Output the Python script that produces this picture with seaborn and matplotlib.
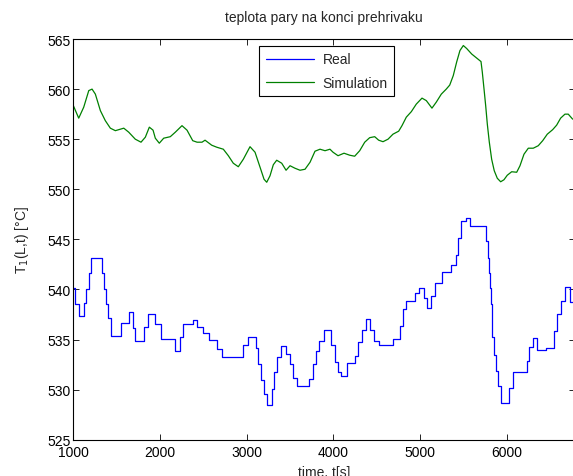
import matplotlib
matplotlib.use("Agg")
import matplotlib.pyplot as plt
import seaborn as sns
import numpy as np

# Measured steam temperature (step signal): step start times [s] and levels [°C]
real_t = [1000, 1023, 1069, 1123, 1147, 1177, 1204, 1331, 1354, 1381, 1400, 1431,
          1547, 1639, 1689, 1716, 1812, 1862, 1946, 2016, 2177, 2235, 2269, 2378,
          2428, 2500, 2570, 2655, 2716, 2962, 3016, 3108, 3135, 3162, 3204, 3239,
          3289, 3316, 3347, 3397, 3455, 3501, 3532, 3581, 3720, 3762, 3801, 3839,
          3897, 3970, 4016, 4055, 4093, 4162, 4247, 4289, 4332, 4381, 4420, 4466,
          4528, 4689, 4767, 4801, 4843, 4940, 4989, 5044, 5085, 5124, 5177, 5258,
          5355, 5416, 5439, 5478, 5528, 5581, 5759, 5782, 5801, 5809, 5820, 5832,
          5855, 5874, 5898, 5935, 6032, 6078, 6232, 6262, 6308, 6347, 6451, 6551,
          6585, 6624, 6674, 6732, 6770]
real_T = [540.1, 538.5, 537.3, 538.6, 540.0, 541.6, 543.1, 541.6, 540.0, 538.5, 537.1, 535.4,
          536.7, 537.7, 536.2, 534.9, 536.3, 537.5, 536.6, 535.1, 533.9, 535.3, 536.6, 536.9,
          536.3, 535.7, 535.0, 534.1, 533.3, 534.5, 535.3, 534.2, 532.6, 531.0, 529.6, 528.5,
          530.1, 531.8, 533.3, 534.4, 533.6, 532.6, 531.2, 530.4, 531.1, 532.6, 533.9, 534.9,
          536.0, 534.5, 532.8, 531.8, 531.4, 532.7, 533.4, 534.8, 536.0, 537.0, 536.0, 534.9,
          534.5, 535.1, 536.4, 538.0, 538.8, 539.6, 540.1, 539.1, 538.1, 539.3, 540.6, 541.7,
          542.4, 543.4, 545.1, 546.8, 547.1, 546.3, 544.8, 543.1, 541.6, 540.1, 538.5, 535.3,
          533.5, 531.9, 530.4, 528.7, 530.2, 531.8, 532.9, 534.3, 535.2, 534.0, 534.2, 535.9,
          537.5, 538.8, 540.2, 538.7, 538.7]

# Simulated steam temperature at the superheater outlet
sim_t = [1000, 1062, 1120, 1178, 1216, 1254, 1312, 1369, 1427, 1485, 1582, 1639,
         1715, 1781, 1831, 1877, 1920, 1946, 1992, 2043, 2119, 2177, 2254, 2312,
         2378, 2428, 2485, 2520, 2597, 2655, 2731, 2789, 2846, 2904, 2962, 3039,
         3097, 3155, 3201, 3232, 3270, 3308, 3347, 3405, 3455, 3501, 3558, 3616,
         3674, 3732, 3789, 3847, 3905, 3962, 3997, 4055, 4124, 4190, 4247, 4305,
         4363, 4420, 4478, 4524, 4574, 4632, 4689, 4755, 4793, 4843, 4901, 4958,
         5024, 5074, 5139, 5189, 5247, 5304, 5344, 5385, 5424, 5462, 5501, 5540,
         5598, 5655, 5705, 5720, 5740, 5759, 5778, 5801, 5828, 5858, 5893, 5932,
         5970, 6008, 6059, 6117, 6155, 6201, 6251, 6308, 6366, 6417, 6470, 6532,
         6578, 6624, 6674, 6712, 6763]
sim_T = [558.35, 557.1, 558.2, 559.85, 560.0, 559.5, 557.85, 556.85, 556.1, 555.85, 556.1, 555.7,
         555.0, 554.7, 555.2, 556.2, 555.9, 555.1, 554.6, 555.1, 555.25, 555.7, 556.35, 555.9,
         554.85, 554.7, 554.7, 554.9, 554.4, 554.2, 554.0, 553.35, 552.6, 552.25, 553.0, 554.25,
         553.7, 552.2, 551.0, 550.7, 551.35, 552.45, 552.9, 552.6, 551.9, 552.35, 552.1, 551.9,
         552.0, 552.7, 553.8, 554.0, 553.85, 554.0, 553.7, 553.35, 553.6, 553.4, 553.3, 553.85,
         554.7, 555.15, 555.25, 554.9, 554.75, 555.0, 555.5, 555.8, 556.35, 557.2, 557.75, 558.5,
         559.1, 558.85, 558.1, 558.7, 559.5, 560.0, 560.4, 561.35, 562.7, 563.85, 564.35, 564.05,
         563.5, 563.1, 562.75, 561.7, 560.0, 558.35, 556.5, 554.7, 553.0, 551.85, 551.1, 550.75,
         550.95, 551.4, 551.75, 551.7, 552.35, 553.5, 554.1, 554.1, 554.35, 554.85, 555.5, 555.95,
         556.4, 557.1, 557.5, 557.5, 557.0]

x_ticks = [1000, 2000, 3000, 4000, 5000, 6000]
y_ticks = [525, 530, 535, 540, 545, 550, 555, 560, 565]

sns.set_style("ticks", {"xtick.direction": "in", "ytick.direction": "in"})
plt.rcParams["font.family"] = ["Liberation Sans", "DejaVu Sans"]
plt.rcParams["font.size"] = 10

fig = plt.figure(figsize=(5.73, 4.77), dpi=100)
ax = fig.add_axes([0.128, 0.0761, 0.8755, 0.840])

sns.lineplot(x=real_t, y=real_T, ax=ax, color="#0000ff", lw=0.9,
             drawstyle="steps-post", estimator=None, sort=False, label="Real")
sns.lineplot(x=sim_t, y=sim_T, ax=ax, color="#008000", lw=0.9,
             estimator=None, sort=False, label="Simulation")

ax.set_xlim(1000, 6790)
ax.set_ylim(525, 565)
ax.set_xticks(x_ticks)
ax.set_yticks(y_ticks)
ax.tick_params(direction="in", length=4, width=0.6, top=True, right=True,
               labelsize=10, colors="black", pad=2)
ax.tick_params(axis="x", pad=4)
for s in ax.spines.values():
    s.set_visible(True)
    s.set_linewidth(0.8)
    s.set_color("black")

ax.set_title("teplota pary na konci prehrivaku", fontsize=10, pad=13)
ax.set_xlabel("time, t[s]", fontsize=10, labelpad=4)
ax.set_ylabel("T$_1$(L,t) [°C]", fontsize=10, labelpad=12)

leg = ax.legend(loc="upper center", bbox_to_anchor=(0.505, 0.982), fancybox=False,
                framealpha=1, edgecolor="black", fontsize=10, handlelength=3.5,
                borderpad=0.45, labelspacing=0.65, handletextpad=0.6,
                borderaxespad=0.0)
leg.get_frame().set_linewidth(0.8)

fig.savefig("out.png", dpi=100)
